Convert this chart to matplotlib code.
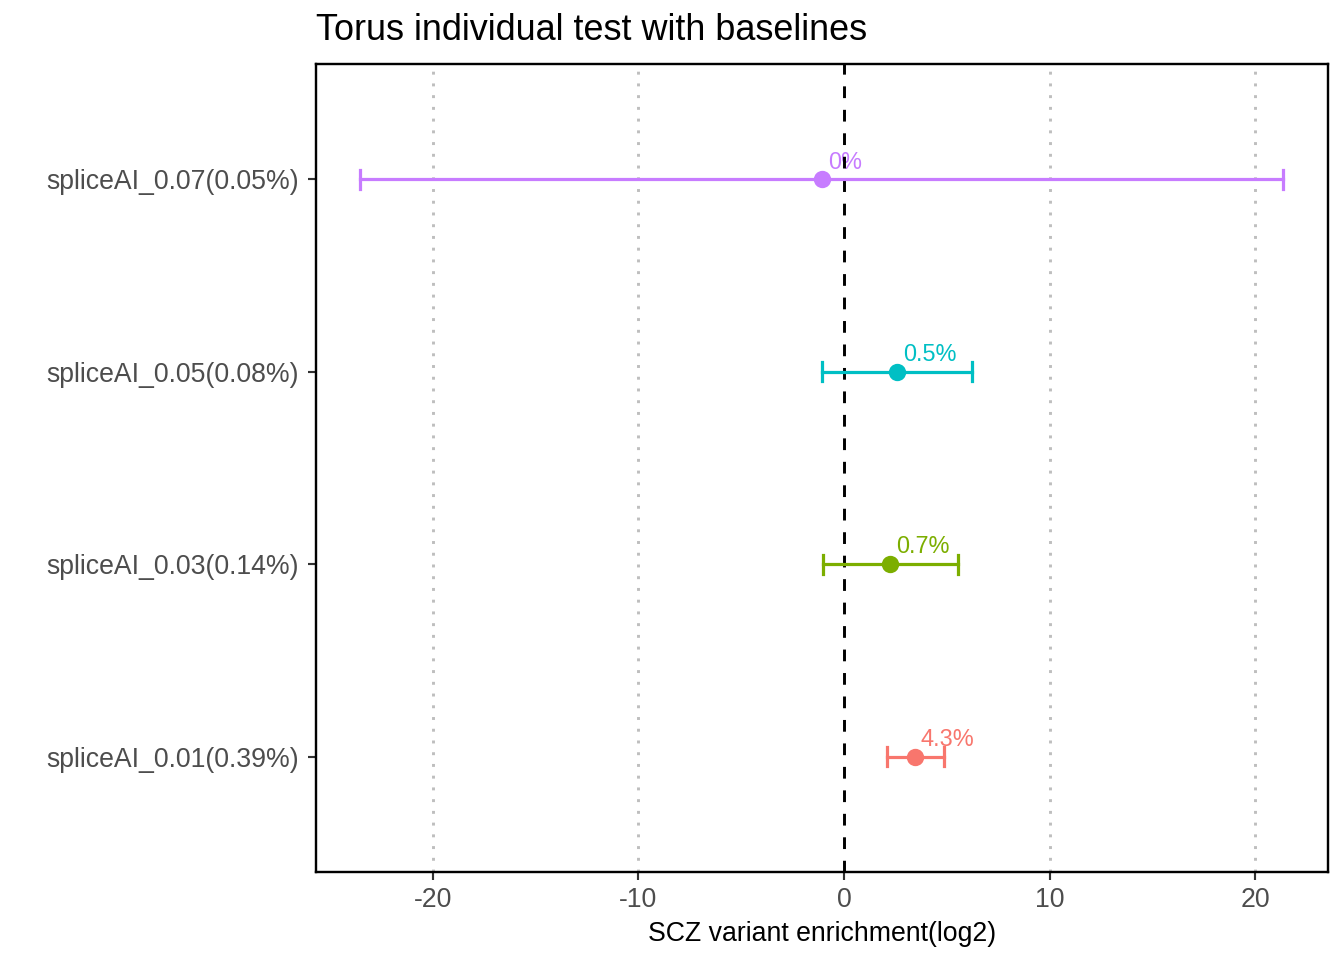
import matplotlib
matplotlib.use("Agg")
import matplotlib.pyplot as plt

labels = ["spliceAI_0.01(0.39%)", "spliceAI_0.03(0.14%)",
          "spliceAI_0.05(0.08%)", "spliceAI_0.07(0.05%)"]
estimate = [3.45, 2.24, 2.58, -1.07]
lower = [2.09, -1.02, -1.07, -23.53]
upper = [4.86, 5.54, 6.22, 21.34]
pct_text = ["4.3%", "0.7%", "0.5%", "0%"]
colors = ["#F8766D", "#7CAE00", "#00BFC4", "#C77CFF"]

plt.rcParams["font.family"] = ["Liberation Sans", "DejaVu Sans"]
plt.rcParams["axes.unicode_minus"] = False

fig = plt.figure(figsize=(7, 5), dpi=192)
ax = fig.add_axes([316 / 1344, 1 - 872 / 960, (1328 - 316) / 1344, (872 - 64) / 960])

for xv in [-20, -10, 10, 20]:
    ax.axvline(xv, color="#BEBEBE", lw=1.1, ls=(0, (1, 3)), zorder=0)
ax.axvline(0, color="black", lw=1.1, ls=(0, (4, 4)), zorder=1)

for i in range(len(labels)):
    y = i + 1
    c = colors[i]
    ax.plot([lower[i], upper[i]], [y, y], color=c, lw=1.2, zorder=2)
    for xe in (lower[i], upper[i]):
        ax.plot([xe, xe], [y - 0.05, y + 0.05], color=c, lw=1.2, zorder=2)
    ax.plot(estimate[i], y, "o", color=c, ms=5.5, zorder=3)
    ax.annotate(pct_text[i], (estimate[i], y), xytext=(2.2, 2.2),
                textcoords="offset points", color=c, fontsize=8.8,
                ha="left", va="bottom", zorder=0.5)

ax.set_xlim(-25.67, 23.53)
ax.set_ylim(0.4, 4.6)
ax.set_xticks([-20, -10, 0, 10, 20])
ax.set_yticks([1, 2, 3, 4])
ax.set_yticklabels(labels)
ax.tick_params(axis="both", labelsize=10, colors="#333333", labelcolor="#4D4D4D",
               length=3, width=0.8)
ax.tick_params(axis="x", pad=2.5)
for s in ax.spines.values():
    s.set_linewidth(0.9)
ax.set_xlabel("SCZ variant enrichment(log2)", fontsize=10, labelpad=3)
ax.set_title("Torus individual test with baselines", fontsize=13.5, loc="left", pad=9)

fig.savefig("out.png", dpi=192)
